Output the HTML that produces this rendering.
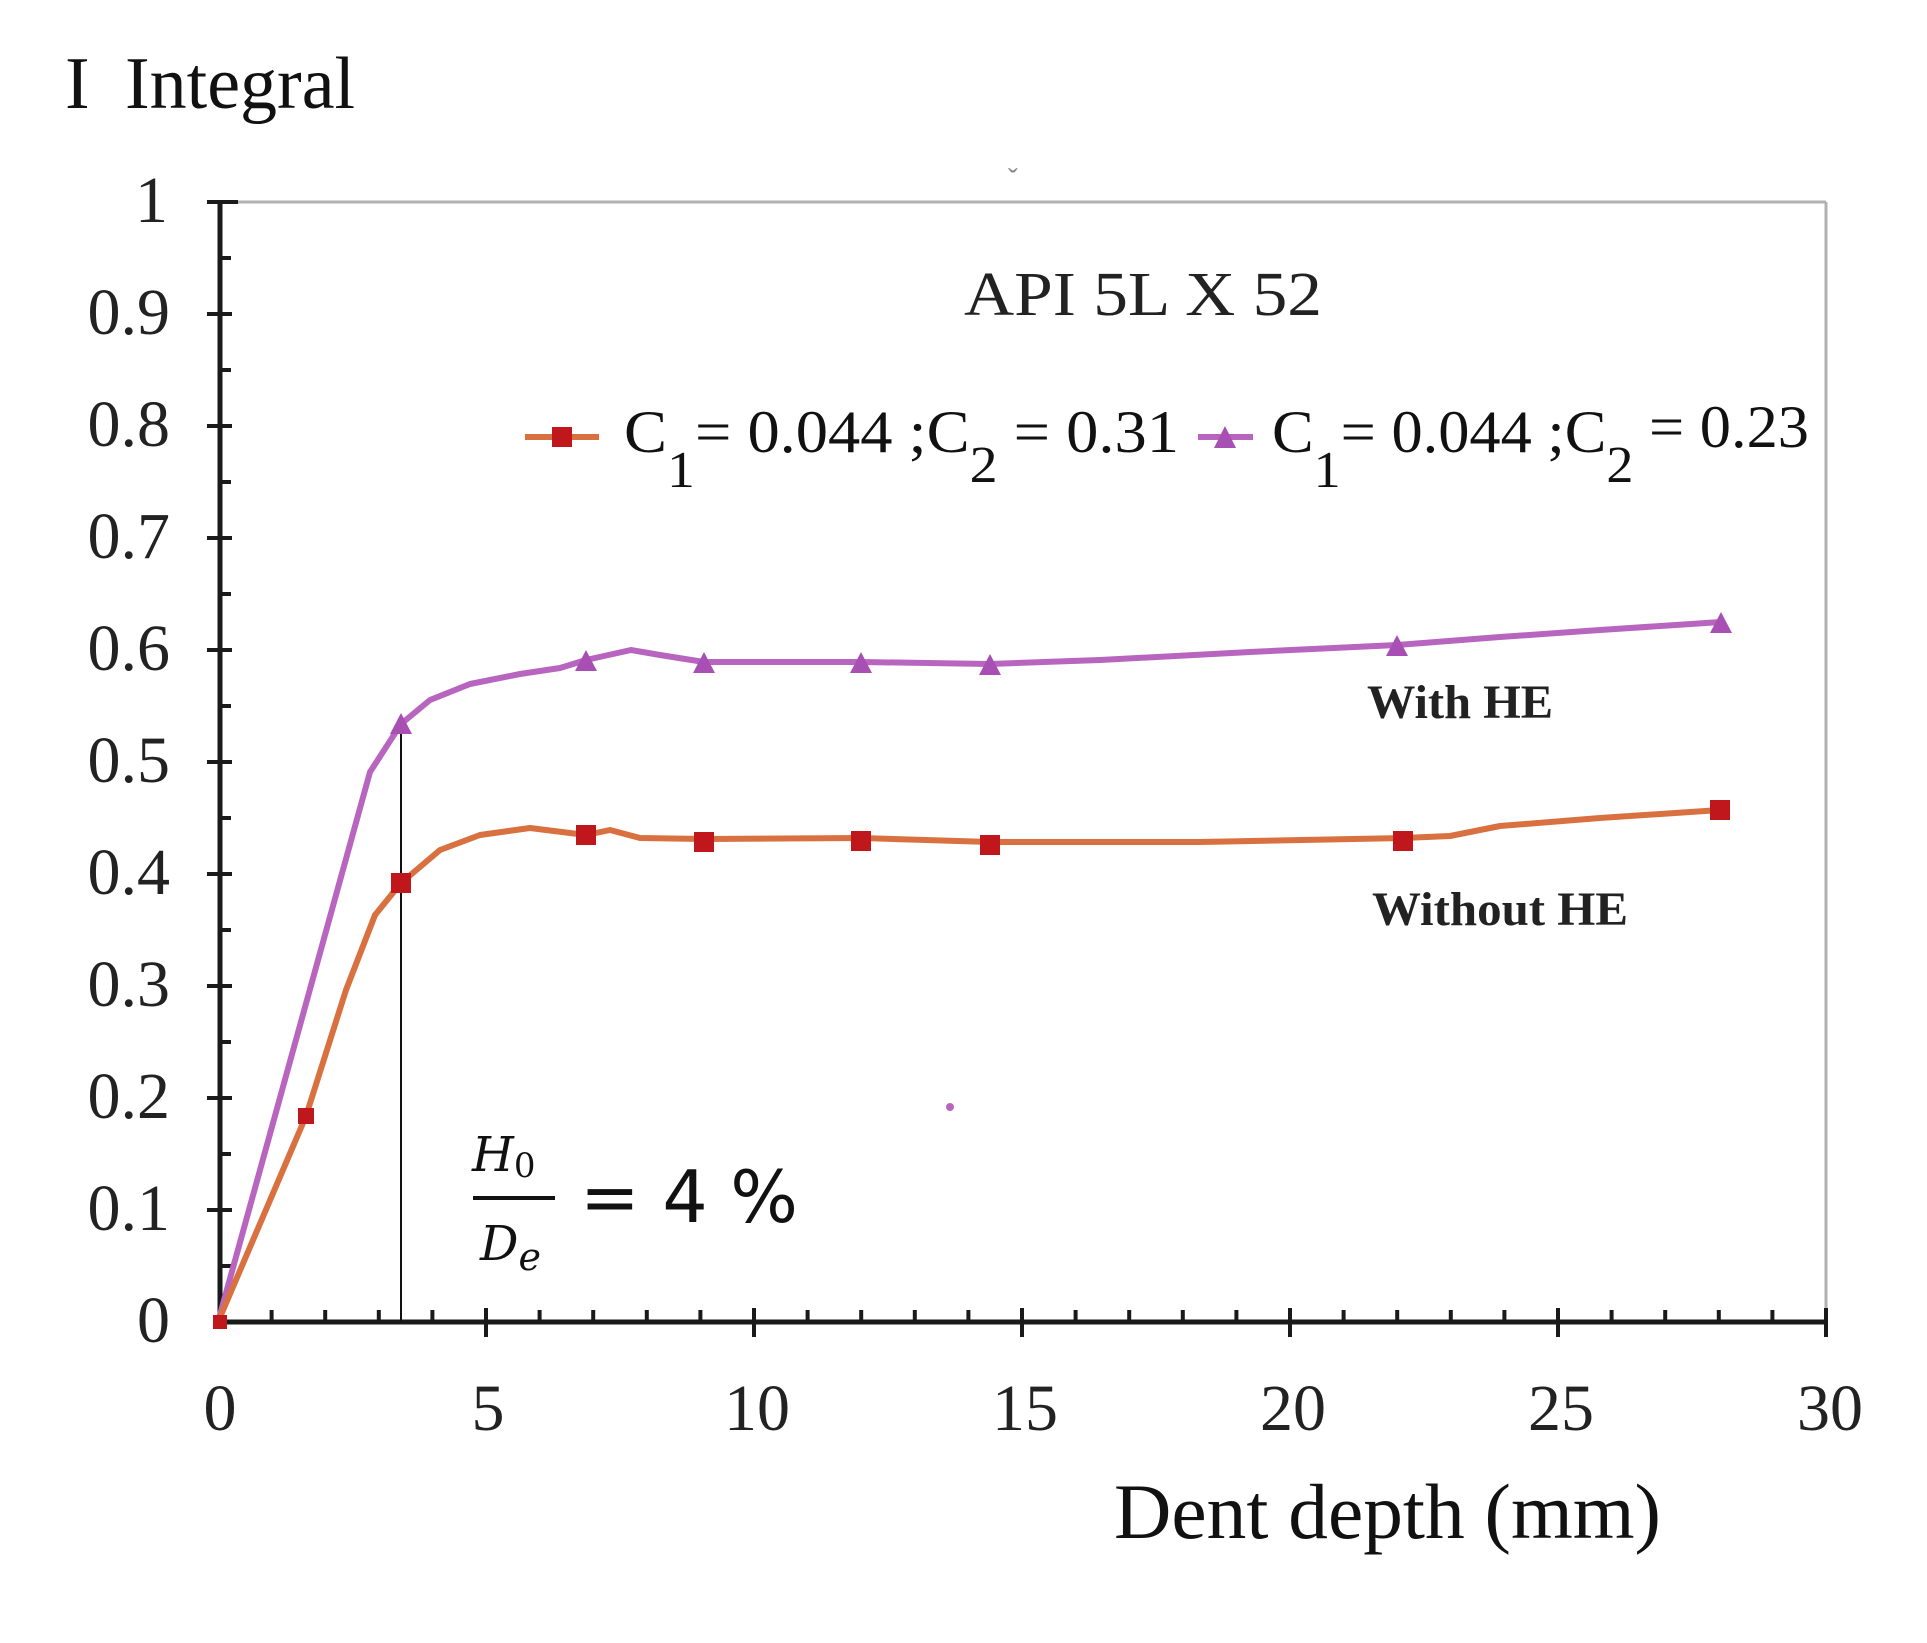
<!DOCTYPE html>
<html><head><meta charset="utf-8"><style>html,body{margin:0;padding:0;background:#fff}svg{display:block}</style></head><body>
<svg width="1927" height="1643" viewBox="0 0 1927 1643" xmlns="http://www.w3.org/2000/svg">
<rect width="1927" height="1643" fill="#fff"/>
<text x="65" y="108" font-family="Liberation Serif, serif" font-size="74" fill="#111">I<tspan x="125">Integral</tspan></text>
<line x1="220" y1="202" x2="1826" y2="202" stroke="#b0b0b0" stroke-width="3"/>
<line x1="1826" y1="202" x2="1826" y2="1322" stroke="#b0b0b0" stroke-width="3"/>
<text x="1013" y="190" font-family="Liberation Sans, sans-serif" font-size="30" fill="#888" text-anchor="middle">ˇ</text>
<g stroke="#1a1a1a" stroke-width="5" fill="none">
<line x1="220" y1="202" x2="220" y2="1322"/>
<line x1="218" y1="1322" x2="1828" y2="1322"/>
</g>
<g stroke="#1a1a1a" stroke-width="4">
<line x1="207" y1="202" x2="238" y2="202"/><line x1="207" y1="314" x2="232" y2="314"/><line x1="207" y1="426" x2="232" y2="426"/><line x1="207" y1="538" x2="232" y2="538"/><line x1="207" y1="650" x2="232" y2="650"/><line x1="207" y1="762" x2="232" y2="762"/><line x1="207" y1="874" x2="232" y2="874"/><line x1="207" y1="986" x2="232" y2="986"/><line x1="207" y1="1098" x2="232" y2="1098"/><line x1="207" y1="1210" x2="232" y2="1210"/>
<line x1="220" y1="258" x2="231" y2="258"/><line x1="220" y1="370" x2="231" y2="370"/><line x1="220" y1="482" x2="231" y2="482"/><line x1="220" y1="594" x2="231" y2="594"/><line x1="220" y1="706" x2="231" y2="706"/><line x1="220" y1="818" x2="231" y2="818"/><line x1="220" y1="930" x2="231" y2="930"/><line x1="220" y1="1042" x2="231" y2="1042"/><line x1="220" y1="1154" x2="231" y2="1154"/><line x1="220" y1="1266" x2="231" y2="1266"/>
</g>
<g stroke="#1a1a1a" stroke-width="4">
<line x1="271.6" y1="1310" x2="271.6" y2="1322"/><line x1="325.2" y1="1310" x2="325.2" y2="1322"/><line x1="378.8" y1="1310" x2="378.8" y2="1322"/><line x1="432.4" y1="1310" x2="432.4" y2="1322"/>
<line x1="486" y1="1308" x2="486" y2="1337"/>
<line x1="539.6" y1="1310" x2="539.6" y2="1322"/><line x1="593.2" y1="1310" x2="593.2" y2="1322"/><line x1="646.8" y1="1310" x2="646.8" y2="1322"/><line x1="700.4" y1="1310" x2="700.4" y2="1322"/>
<line x1="754" y1="1308" x2="754" y2="1337"/>
<line x1="807.6" y1="1310" x2="807.6" y2="1322"/><line x1="861.2" y1="1310" x2="861.2" y2="1322"/><line x1="914.8" y1="1310" x2="914.8" y2="1322"/><line x1="968.4" y1="1310" x2="968.4" y2="1322"/>
<line x1="1022" y1="1308" x2="1022" y2="1337"/>
<line x1="1075.6" y1="1310" x2="1075.6" y2="1322"/><line x1="1129.2" y1="1310" x2="1129.2" y2="1322"/><line x1="1182.8" y1="1310" x2="1182.8" y2="1322"/><line x1="1236.4" y1="1310" x2="1236.4" y2="1322"/>
<line x1="1290" y1="1308" x2="1290" y2="1337"/>
<line x1="1343.6" y1="1310" x2="1343.6" y2="1322"/><line x1="1397.2" y1="1310" x2="1397.2" y2="1322"/><line x1="1450.8" y1="1310" x2="1450.8" y2="1322"/><line x1="1504.4" y1="1310" x2="1504.4" y2="1322"/>
<line x1="1558" y1="1308" x2="1558" y2="1337"/>
<line x1="1611.6" y1="1310" x2="1611.6" y2="1322"/><line x1="1665.2" y1="1310" x2="1665.2" y2="1322"/><line x1="1718.8" y1="1310" x2="1718.8" y2="1322"/><line x1="1772.4" y1="1310" x2="1772.4" y2="1322"/>
<line x1="1826" y1="1308" x2="1826" y2="1337"/>
</g>
<g font-family="Liberation Serif, serif" font-size="66" fill="#222" text-anchor="end">
<text x="168" y="222">1</text><text x="170" y="334">0.9</text><text x="170" y="446">0.8</text><text x="170" y="558">0.7</text><text x="170" y="670">0.6</text><text x="170" y="782">0.5</text><text x="170" y="894">0.4</text><text x="170" y="1006">0.3</text><text x="170" y="1118">0.2</text><text x="170" y="1230">0.1</text><text x="170" y="1342">0</text>
</g>
<g font-family="Liberation Serif, serif" font-size="66" fill="#222" text-anchor="middle">
<text x="220" y="1430">0</text><text x="488" y="1430">5</text><text x="757" y="1430">10</text><text x="1025" y="1430">15</text><text x="1293" y="1430">20</text><text x="1561" y="1430">25</text><text x="1830" y="1430">30</text>
</g>
<text x="1114" y="1538" font-family="Liberation Serif, serif" font-size="78" fill="#111" textLength="547" lengthAdjust="spacingAndGlyphs">Dent depth (mm)</text>
<text x="964" y="315" font-family="Liberation Serif, serif" font-size="62" fill="#222" textLength="358" lengthAdjust="spacingAndGlyphs">API 5L X 52</text>
<line x1="525" y1="437" x2="599" y2="437" stroke="#d9703f" stroke-width="6"/>
<rect x="552" y="427" width="20" height="20" fill="#c0171c"/>
<g font-family="Liberation Serif, serif" font-size="60" fill="#111">
<text x="624" y="452" textLength="555" lengthAdjust="spacingAndGlyphs">C<tspan dy="35" font-size="52">1</tspan><tspan dy="-35">= 0.044 ;C</tspan><tspan dy="30" font-size="52">2</tspan><tspan dy="-30"> = 0.31</tspan></text>
<text x="1272" y="452" textLength="537" lengthAdjust="spacingAndGlyphs">C<tspan dy="35" font-size="52">1</tspan><tspan dy="-35">= 0.044 ;C</tspan><tspan dy="30" font-size="52">2</tspan><tspan dy="-35"> = 0.23</tspan></text>
</g>
<line x1="1198" y1="437" x2="1253" y2="437" stroke="#b865c0" stroke-width="6"/>
<polygon points="1214,448 1236,448 1225,426" fill="#a84fb4"/>
<line x1="401" y1="724" x2="401" y2="1322" stroke="#111" stroke-width="2"/>
<polyline fill="none" stroke="#b865c0" stroke-width="6" stroke-linejoin="round" points="218,1322 370,772 401,724 430,700 470,684 520,674 560,668 586,660 631,650 660,655 704,662 861,662 990,664 1100,660 1250,652 1397,645 1500,637 1600,630 1721,622"/>
<polyline fill="none" stroke="#d9703f" stroke-width="6" stroke-linejoin="round" points="218,1322 306,1116 346,990 375,915 401,883 440,850 480,835 530,828 586,835 610,830 640,838 704,839 861,838 990,842 1200,842 1403,838 1450,836 1500,826 1600,818 1720,810"/>
<g fill="#a84fb4">
<polygon points="390,734 412,734 401,713"/><polygon points="575,671 597,671 586,650"/><polygon points="693,673 715,673 704,652"/><polygon points="850,673 872,673 861,652"/><polygon points="979,675 1001,675 990,654"/><polygon points="1386,656 1408,656 1397,635"/><polygon points="1710,633 1732,633 1721,612"/>
</g>
<g fill="#c0171c">
<rect x="298" y="1108" width="16" height="16"/><rect x="391" y="873" width="20" height="20"/><rect x="576" y="825" width="20" height="20"/><rect x="694" y="832" width="20" height="20"/><rect x="851" y="831" width="20" height="20"/><rect x="980" y="835" width="20" height="20"/><rect x="1393" y="831" width="20" height="20"/><rect x="1710" y="800" width="20" height="20"/>
</g>
<rect x="213" y="1315" width="14" height="14" fill="#c0171c"/>
<circle cx="950" cy="1107" r="4" fill="#b865c0"/>
<g font-family="Liberation Serif, serif" font-size="48" font-weight="bold" fill="#222">
<text x="1367" y="718" textLength="186" lengthAdjust="spacingAndGlyphs">With HE</text>
<text x="1372" y="925" textLength="256" lengthAdjust="spacingAndGlyphs">Without HE</text>
</g>
<g font-family="DejaVu Serif, serif" fill="#111">
<text x="472" y="1171" font-size="48" font-style="italic">H<tspan font-size="34" font-style="normal" dy="6">0</tspan></text>
<line x1="473" y1="1198" x2="555" y2="1198" stroke="#111" stroke-width="4"/>
<text x="480" y="1260" font-size="48" font-style="italic">D<tspan font-size="38" dy="10">e</tspan></text>
</g>
<text x="580" y="1222" font-family="DejaVu Sans, sans-serif" font-size="72" fill="#111" textLength="218" lengthAdjust="spacingAndGlyphs">= 4 %</text>
</svg>
</body></html>
